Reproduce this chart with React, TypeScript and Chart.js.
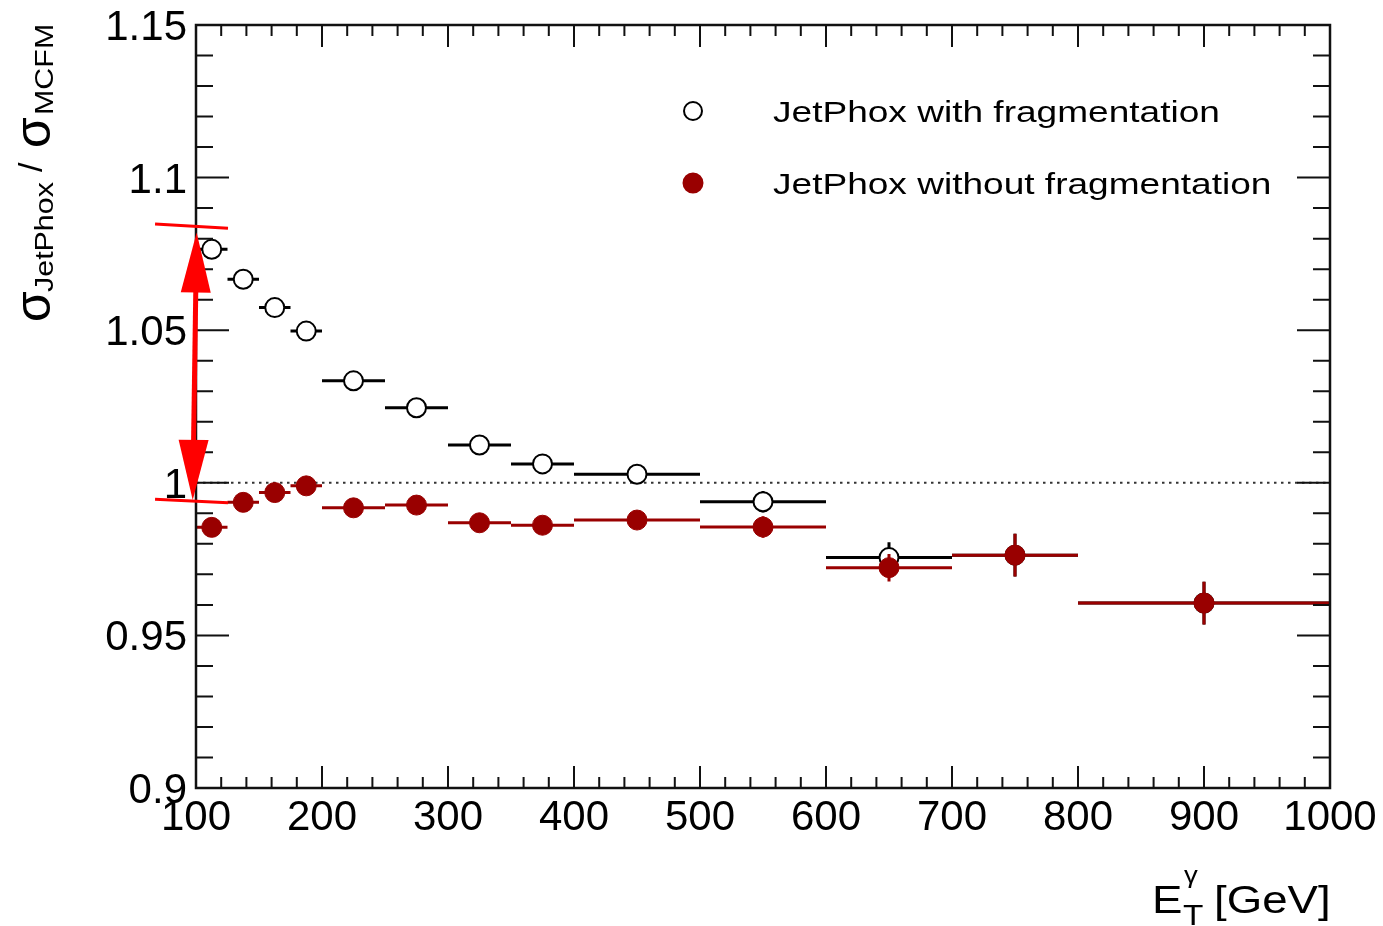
import { useEffect, useRef } from 'react';
import { Chart, registerables } from 'chart.js';

Chart.register(...registerables);

// Photon E_T bins [GeV]
const binLow = [100, 125, 150, 175, 200, 250, 300, 350, 400, 500, 600, 700, 800];
const binHigh = [125, 150, 175, 200, 250, 300, 350, 400, 500, 600, 700, 800, 1000];
const binCenter = [112.5, 137.5, 162.5, 187.5, 225, 275, 325, 375, 450, 550, 650, 750, 900];

// Ratio sigma_JetPhox / sigma_MCFM
const withFrag = [1.0765, 1.0667, 1.0574, 1.0497, 1.0334, 1.0246, 1.0124, 1.0062, 1.0028, 0.9938, 0.9755, 0.9763, 0.9606];
const withFragErr = [0.001, 0.001, 0.001, 0.001, 0.001, 0.001, 0.001, 0.001, 0.0015, 0.0035, 0.005, 0.007, 0.007];
const withoutFrag = [0.9854, 0.9936, 0.9968, 0.999, 0.9918, 0.9927, 0.9869, 0.9861, 0.9878, 0.9855, 0.9722, 0.9763, 0.9606];
const withoutFragErr = [0.001, 0.001, 0.001, 0.001, 0.001, 0.001, 0.001, 0.001, 0.0015, 0.0035, 0.0045, 0.007, 0.007];

const seriesNames = ['JetPhox with fragmentation', 'JetPhox without fragmentation'];

// Axis ticks
const xTickValues = [100, 200, 300, 400, 500, 600, 700, 800, 900, 1000];
const xTickLabels = ['100', '200', '300', '400', '500', '600', '700', '800', '900', '1000'];
const yTickValues = [0.9, 0.95, 1, 1.05, 1.1, 1.15];
const yTickLabels = ['0.9', '0.95', '1', '1.05', '1.1', '1.15'];
const xMinorStep = 20;
const yMinorStep = 0.01;

// Double arrow marking the fragmentation effect in the first bin (data units)
const arrowX = [100.5, 97.4];
const arrowY = [1.082, 0.9944];
const capX = [67.5, 125.4];
const capTopY = [1.0848, 1.0834];
const capBottomY = [0.9946, 0.9935];

const DARK_RED = '#990000';
const FONT = '"Liberation Sans", Arial, Helvetica, sans-serif';

function wideText(ctx: CanvasRenderingContext2D, text: string, x: number, y: number, size: number, sx: number) {
  ctx.save();
  ctx.font = `${size}px ${FONT}`;
  ctx.translate(x, y);
  ctx.scale(sx, 1);
  ctx.fillText(text, 0, 0);
  ctx.restore();
}

const errorBars = {
  id: 'errorBars',
  beforeDatasetDraw(chart: any, args: any) {
    const ds = chart.data.datasets[args.index];
    const { ctx, scales } = chart;
    const xs = scales.x;
    const ys = scales.y;
    ctx.save();
    ctx.strokeStyle = ds.borderColor === '#000000' ? '#000000' : DARK_RED;
    ctx.lineWidth = 3;
    ds.data.forEach((p: any, i: number) => {
      const y = ys.getPixelForValue(p.y);
      ctx.beginPath();
      ctx.moveTo(xs.getPixelForValue(ds.lo[i]), y);
      ctx.lineTo(xs.getPixelForValue(ds.hi[i]), y);
      const x = xs.getPixelForValue(p.x);
      ctx.moveTo(x, ys.getPixelForValue(p.y - ds.err[i]));
      ctx.lineTo(x, ys.getPixelForValue(p.y + ds.err[i]));
      ctx.stroke();
    });
    ctx.restore();
  },
};

const unityLine = {
  id: 'unityLine',
  beforeDatasetsDraw(chart: any) {
    const { ctx, chartArea, scales } = chart;
    const y = scales.y.getPixelForValue(1);
    ctx.save();
    ctx.strokeStyle = '#333';
    ctx.lineWidth = 2;
    ctx.setLineDash([2.5, 4.5]);
    ctx.beginPath();
    ctx.moveTo(chartArea.left, y);
    ctx.lineTo(chartArea.right, y);
    ctx.stroke();
    ctx.restore();
  },
};

const rootFrame = {
  id: 'rootFrame',
  afterDatasetsDraw(chart: any) {
    const { ctx, chartArea, scales } = chart;
    const { left, right, top, bottom } = chartArea;
    const xs = scales.x;
    const ys = scales.y;
    ctx.save();
    ctx.strokeStyle = '#111';
    ctx.lineWidth = 2;
    ctx.beginPath();
    // x ticks on bottom and top
    for (let v = xs.min; v <= xs.max + 1e-6; v += xMinorStep) {
      const major = xTickValues.some((t) => Math.abs(t - v) < 1e-6);
      const len = major ? 22 : 11;
      const x = xs.getPixelForValue(v);
      ctx.moveTo(x, bottom);
      ctx.lineTo(x, bottom - len);
      ctx.moveTo(x, top);
      ctx.lineTo(x, top + len);
    }
    // y ticks on left and right
    for (let k = 0; ; k++) {
      const v = ys.min + k * yMinorStep;
      if (v > ys.max + 1e-9) break;
      const major = yTickValues.some((t) => Math.abs(t - v) < 1e-6);
      const len = major ? 33 : 17;
      const y = ys.getPixelForValue(v);
      ctx.moveTo(left, y);
      ctx.lineTo(left + len, y);
      ctx.moveTo(right, y);
      ctx.lineTo(right - len, y);
    }
    ctx.stroke();
    ctx.lineWidth = 2.5;
    ctx.strokeRect(left, top, right - left, bottom - top);

    // tick labels
    ctx.fillStyle = '#000';
    ctx.font = `42px ${FONT}`;
    ctx.textAlign = 'center';
    ctx.textBaseline = 'alphabetic';
    xTickValues.forEach((v, i) => {
      ctx.fillText(xTickLabels[i], xs.getPixelForValue(v), bottom + 42);
    });
    ctx.textAlign = 'right';
    yTickValues.forEach((v, i) => {
      ctx.fillText(yTickLabels[i], left - 9, ys.getPixelForValue(v) + 15);
    });
    ctx.restore();
  },
  afterDraw(chart: any) {
    const { ctx, chartArea, scales } = chart;
    const xs = scales.x;
    const ys = scales.y;
    ctx.save();
    ctx.fillStyle = '#000';
    ctx.textAlign = 'left';
    ctx.textBaseline = 'alphabetic';

    // x-axis title: E_T^gamma [GeV]
    const r = chartArea.right;
    const base = chartArea.bottom + 125;
    wideText(ctx, 'E', r - 178, base, 38, 1.2);
    wideText(ctx, 'T', r - 147, base + 12, 29, 1.15);
    wideText(ctx, 'γ', r - 146, base - 30, 24, 1.15);
    wideText(ctx, '[GeV]', r - 116, base, 38, 1.2);

    // y-axis title: sigma_JetPhox / sigma_MCFM (rotated)
    ctx.save();
    ctx.translate(50, 322);
    ctx.rotate(-Math.PI / 2);
    wideText(ctx, 'σ', 0, 0, 50, 1.0);
    wideText(ctx, 'JetPhox', 30, 3, 26, 1.17);
    wideText(ctx, '/', 150, -8, 34, 1.0);
    wideText(ctx, 'σ', 174, 0, 50, 1.0);
    wideText(ctx, 'MCFM', 207, 3, 26, 1.17);
    ctx.restore();

    // legend
    const markers = [
      { y: 111, fill: '#ffffff', stroke: '#000000', r: 9 },
      { y: 183, fill: DARK_RED, stroke: DARK_RED, r: 9.5 },
    ];
    markers.forEach((m, i) => {
      ctx.beginPath();
      ctx.arc(693, m.y, m.r, 0, Math.PI * 2);
      ctx.fillStyle = m.fill;
      ctx.fill();
      ctx.lineWidth = 2;
      ctx.strokeStyle = m.stroke;
      ctx.stroke();
      ctx.fillStyle = '#000';
      wideText(ctx, seriesNames[i], 773, m.y + 11, 30, 1.235);
    });

    // red double arrow with end caps
    ctx.strokeStyle = '#ff0000';
    ctx.fillStyle = '#ff0000';
    const ax0 = xs.getPixelForValue(arrowX[0]);
    const ay0 = ys.getPixelForValue(arrowY[0]);
    const ax1 = xs.getPixelForValue(arrowX[1]);
    const ay1 = ys.getPixelForValue(arrowY[1]);
    const head = 60;
    const half = 15;
    const len = Math.hypot(ax1 - ax0, ay1 - ay0);
    const ux = (ax1 - ax0) / len;
    const uy = (ay1 - ay0) / len;
    ctx.lineWidth = 5;
    ctx.beginPath();
    ctx.moveTo(ax0 + ux * head * 0.8, ay0 + uy * head * 0.8);
    ctx.lineTo(ax1 - ux * head * 0.8, ay1 - uy * head * 0.8);
    ctx.stroke();
    const drawHead = (tx: number, ty: number, dx: number, dy: number) => {
      const bx = tx + dx * head;
      const by = ty + dy * head;
      ctx.beginPath();
      ctx.moveTo(tx, ty);
      ctx.lineTo(bx - dy * half, by + dx * half);
      ctx.lineTo(bx + dy * half, by - dx * half);
      ctx.closePath();
      ctx.fill();
    };
    drawHead(ax0, ay0, ux, uy);
    drawHead(ax1, ay1, -ux, -uy);

    ctx.lineWidth = 3;
    ctx.beginPath();
    ctx.moveTo(xs.getPixelForValue(capX[0]), ys.getPixelForValue(capTopY[0]));
    ctx.lineTo(xs.getPixelForValue(capX[1]), ys.getPixelForValue(capTopY[1]));
    ctx.moveTo(xs.getPixelForValue(capX[0]), ys.getPixelForValue(capBottomY[0]));
    ctx.lineTo(xs.getPixelForValue(capX[1]), ys.getPixelForValue(capBottomY[1]));
    ctx.stroke();
    ctx.restore();
  },
};

export default function App() {
  const canvasRef = useRef<HTMLCanvasElement | null>(null);

  useEffect(() => {
    const canvas = canvasRef.current;
    if (!canvas) return;
    const chart = new Chart(canvas, {
      type: 'scatter',
      data: {
        datasets: [
          {
            label: seriesNames[0],
            data: binCenter.map((x, i) => ({ x, y: withFrag[i] })),
            lo: binLow,
            hi: binHigh,
            err: withFragErr,
            pointRadius: 9.5,
            pointBorderWidth: 2,
            backgroundColor: '#ffffff',
            borderColor: '#000000',
            order: 2,
          } as any,
          {
            label: seriesNames[1],
            data: binCenter.map((x, i) => ({ x, y: withoutFrag[i] })),
            lo: binLow,
            hi: binHigh,
            err: withoutFragErr,
            pointRadius: 10,
            pointBorderWidth: 1,
            backgroundColor: DARK_RED,
            borderColor: DARK_RED,
            order: 1,
          } as any,
        ],
      },
      options: {
        responsive: false,
        animation: false,
        devicePixelRatio: 1,
        layout: { padding: { left: 196, right: 53, top: 25, bottom: 138 } },
        scales: {
          x: { type: 'linear', min: 100, max: 1000, display: false },
          y: { type: 'linear', min: 0.9, max: 1.15, display: false },
        },
        plugins: {
          legend: { display: false },
          tooltip: { enabled: false },
        },
      },
      plugins: [unityLine, errorBars, rootFrame],
    });
    return () => chart.destroy();
  }, []);

  return (
    <div style={{ position: 'absolute', left: 0, top: 0, width: 1383, height: 926, background: '#fff' }}>
      <canvas ref={canvasRef} width={1383} height={926} style={{ width: 1383, height: 926, display: 'block' }} />
    </div>
  );
}
